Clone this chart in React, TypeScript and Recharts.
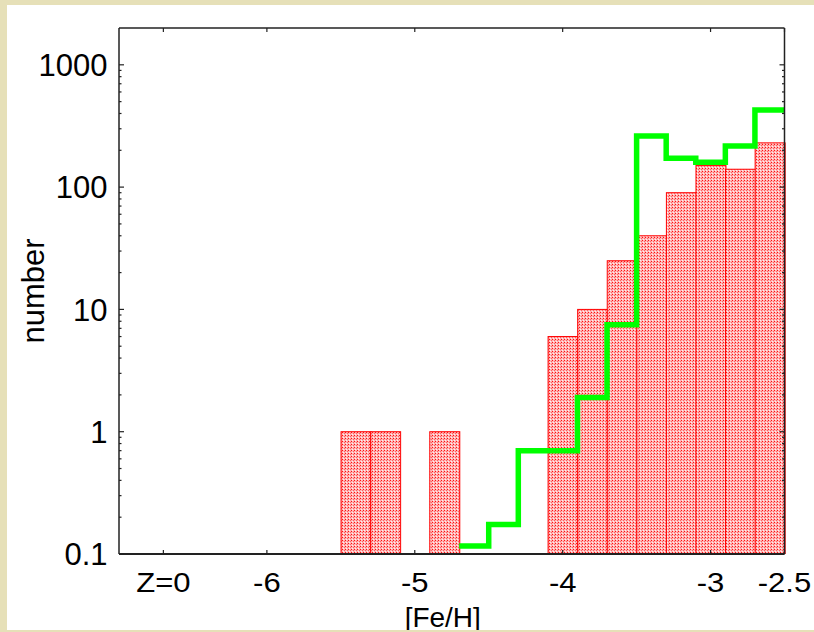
import React from "react"
import { Bar, ComposedChart, Line, ReferenceLine, XAxis, YAxis } from "recharts"

// left edges of the 0.2 dex [Fe/H] bins; the last entry closes the final bin
const BIN_EDGES = [
  -5.5, -5.3, -5.1, -4.9, -4.7, -4.5, -4.3, -4.1, -3.9, -3.7, -3.5, -3.3, -3.1,
  -2.9, -2.7, -2.5,
]
// observed stars per bin (red histogram)
const OBSERVED = [
  1, 1, null, 1, null, null, null, 6, 10, 25, 40, 90, 150, 140, 230, null,
]
// model prediction (green step line)
const MODEL = [
  null, null, null, null, 0.116, 0.174, 0.7, 0.7, 1.9, 7.5, 262, 172, 160, 217,
  428, 428,
]

const X_DOMAIN = [-7, -2.5]
const X_TICKS = [-6.7, -6, -5, -4, -3, -2.5]
const X_LABELS = ["Z=0", "-6", "-5", "-4", "-3", "-2.5"]
const Y_DOMAIN = [0.1, 2000]
const Y_MAJOR = [0.1, 1, 10, 100, 1000]
const Y_LABELS = ["0.1", "1", "10", "100", "1000"]
// minor log ticks 2..9 in each decade, only those inside the frame
const Y_MINOR = Y_MAJOR.flatMap((d) =>
  [2, 3, 4, 5, 6, 7, 8, 9].map((k) => +(k * d).toPrecision(3))
).filter((v) => v < Y_DOMAIN[1])
const Y_TICKS = [...Y_MAJOR, ...Y_MINOR].sort((a, b) => a - b)

const data = BIN_EDGES.map((x, i) => ({
  x,
  observed: OBSERVED[i],
  model: MODEL[i],
}))

const W = 814
const H = 632
const MARGIN = { top: 28, right: 29.5, bottom: 0, left: 0 }
const Y_AXIS_W = 119
const X_AXIS_H = 78
const PLOT_W = W - MARGIN.left - MARGIN.right - Y_AXIS_W
const PLOT_H = H - MARGIN.top - X_AXIS_H

const FONT = "'Liberation Sans', Arial, sans-serif"
const FRAME = "#222"

// left ticks, mirrored onto the right side of the frame
function LeftTick(p: any) {
  const i = Y_MAJOR.indexOf(p.payload.value)
  const len = i >= 0 ? 5 : 2.5
  const xr = p.x + PLOT_W
  return (
    <g>
      <line x1={p.x} x2={p.x + len} y1={p.y} y2={p.y} stroke={FRAME} strokeWidth={1.2} />
      <line x1={xr - len} x2={xr} y1={p.y} y2={p.y} stroke={FRAME} strokeWidth={1.2} />
      {i >= 0 && (
        <text x={p.x - 11.5} y={p.y} dy="0.36em" textAnchor="end" fontSize={31} fontFamily={FONT} fill="#000">
          {Y_LABELS[i]}
        </text>
      )}
    </g>
  )
}

// bottom ticks, mirrored onto the top of the frame
function BottomTick(p: any) {
  const i = X_TICKS.indexOf(p.payload.value)
  const yt = p.y - PLOT_H
  return (
    <g>
      <line x1={p.x} x2={p.x} y1={p.y} y2={p.y - 4} stroke={FRAME} strokeWidth={1.2} />
      <line x1={p.x} x2={p.x} y1={yt} y2={yt + 4} stroke={FRAME} strokeWidth={1.2} />
      <text
        transform={`translate(${p.x},${p.y + 38}) scale(1.15,1)`}
        textAnchor="middle"
        fontSize={27}
        fontFamily={FONT}
        fill="#000"
      >
        {X_LABELS[i]}
      </text>
    </g>
  )
}

function XTitle({ viewBox }: any) {
  return (
    <text
      x={viewBox.x + viewBox.width / 2 - 9}
      y={viewBox.y + viewBox.height - 5}
      textAnchor="middle"
      fontSize={28}
      fontFamily={FONT}
      fill="#000"
    >
      [Fe/H]
    </text>
  )
}

function YTitle({ viewBox }: any) {
  const cy = viewBox.y + viewBox.height / 2
  return (
    <text
      x={44}
      y={cy}
      transform={`rotate(-90, 44, ${cy})`}
      textAnchor="middle"
      fontSize={31}
      fontFamily={FONT}
      fill="#000"
    >
      number
    </text>
  )
}

// bars sit on the bin's left edge, so draw them shifted half a bin to the right
function HistBar(p: any) {
  if (!(p.height > 0)) return <g />
  return (
    <rect
      x={p.x + p.width / 2}
      y={p.y}
      width={p.width}
      height={p.height}
      fill="url(#dots)"
      stroke="#ff0000"
      strokeWidth={1}
    />
  )
}

export default function App() {
  return (
    <div style={{ position: "relative", width: W, height: H, background: "#e6e0b8", overflow: "hidden" }}>
      <style>{"body{margin:0}"}</style>
      <div style={{ position: "absolute", left: 7, top: 5, width: 807, height: 625, background: "#fff" }} />
      <div style={{ position: "absolute", left: 0, top: 0 }}>
        <ComposedChart
          width={W}
          height={H}
          data={data}
          barCategoryGap={0}
          barGap={0}
          margin={MARGIN}
        >
          <defs>
            <pattern id="dots" patternUnits="userSpaceOnUse" width={3} height={3}>
              <rect width={3} height={3} fill="#ffb4b4" />
              <rect x={0} y={0} width={1} height={1} fill="#ff1010" />
              <rect x={2} y={1} width={1} height={1} fill="#ff6060" />
              <rect x={1} y={2} width={1} height={1} fill="#fff0f0" />
            </pattern>
          </defs>
          <XAxis
            dataKey="x"
            type="number"
            domain={X_DOMAIN}
            ticks={X_TICKS}
            interval={0}
            height={X_AXIS_H}
            tickSize={0}
            tickMargin={0}
            tickLine={false}
            tick={<BottomTick />}
            axisLine={{ stroke: FRAME, strokeWidth: 2 }}
            label={<XTitle />}
          />
          <YAxis
            type="number"
            scale="log"
            domain={Y_DOMAIN}
            allowDataOverflow
            ticks={Y_TICKS}
            interval={0}
            width={Y_AXIS_W}
            tickSize={0}
            tickMargin={0}
            tickLine={false}
            tick={<LeftTick />}
            axisLine={{ stroke: FRAME, strokeWidth: 1.5 }}
            label={<YTitle />}
          />
          <Bar dataKey="observed" shape={HistBar} isAnimationActive={false} />
          <Line
            dataKey="model"
            type="stepAfter"
            stroke="#00ff00"
            strokeWidth={5.5}
            dot={false}
            activeDot={false}
            strokeLinejoin="miter"
            isAnimationActive={false}
          />
          {/* top and right sides of the frame */}
          <ReferenceLine y={Y_DOMAIN[1]} stroke={FRAME} strokeWidth={1.5} ifOverflow="visible" />
          <ReferenceLine x={X_DOMAIN[1]} stroke={FRAME} strokeWidth={1.5} ifOverflow="visible" />
        </ComposedChart>
      </div>
      <div style={{ position: "absolute", left: 0, top: 630, width: W, height: 2, background: "#e6e0b8" }} />
    </div>
  )
}
